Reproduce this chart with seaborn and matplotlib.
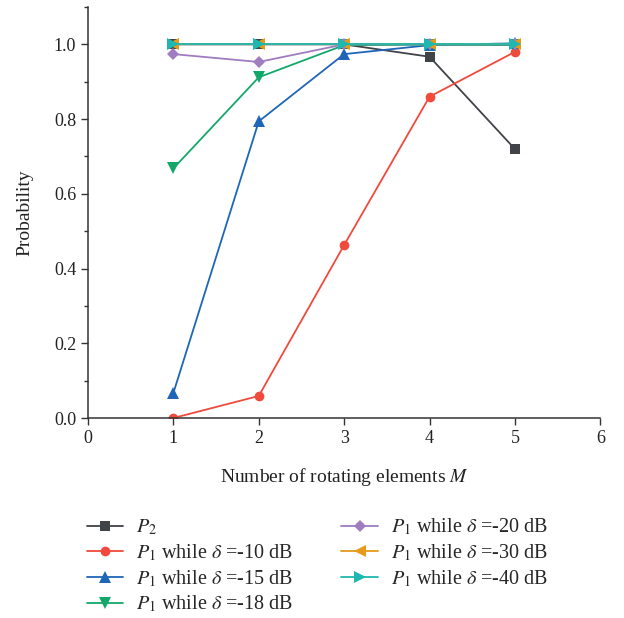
import matplotlib
matplotlib.use('Agg')
import matplotlib.pyplot as plt
import seaborn as sns
from matplotlib.ticker import MultipleLocator

# Data
M = [1, 2, 3, 4, 5]
p2 = [1.0, 1.0, 1.0, 0.967, 0.72]
p1_10 = [0.0, 0.059, 0.463, 0.86, 0.98]
p1_15 = [0.067, 0.794, 0.974, 0.998, 1.003]
p1_18 = [0.668, 0.912, 0.998, 0.999, 0.998]
p1_20 = [0.974, 0.953, 1.0, 1.0, 1.0]
p1_30 = [1.0, 1.0, 1.0, 1.0, 1.0]
p1_40 = [1.0, 1.0, 1.0, 1.0, 1.0]

labels = [r'$P_2$',
          r'$P_1$ while $\delta$ =-10 dB',
          r'$P_1$ while $\delta$ =-15 dB',
          r'$P_1$ while $\delta$ =-18 dB',
          r'$P_1$ while $\delta$ =-20 dB',
          r'$P_1$ while $\delta$ =-30 dB',
          r'$P_1$ while $\delta$ =-40 dB']
series = [p2, p1_10, p1_15, p1_18, p1_20, p1_30, p1_40]
colors = ['#404347', '#f04a3c', '#1f66b8', '#13a86a', '#a07cc0', '#e59a1a', '#1fb8b0']
markers = ['s', 'o', '^', 'v', 'D', '<', '>']
msizes = [7, 7, 8, 8, 6.5, 8, 8]

sns.set_style('ticks')
plt.rcParams['font.family'] = ['Liberation Serif', 'DejaVu Serif']
plt.rcParams['mathtext.fontset'] = 'stix'

fig = plt.figure(figsize=(6.24, 6.18), dpi=100)
ax = fig.add_axes([0.141, 0.3236, 0.821, 0.665])

for vals, lab, c, m, ms in zip(series, labels, colors, markers, msizes):
    sns.lineplot(x=M, y=vals, ax=ax, color=c, marker=m, markersize=ms,
                 markeredgewidth=0, linewidth=1.3, label=lab)

ax.set_xlim(0, 6)
ax.set_ylim(0, 1.1)
ax.set_xticks(range(0, 7))
ax.set_yticks([0.0, 0.2, 0.4, 0.6, 0.8, 1.0])
ax.yaxis.set_minor_locator(MultipleLocator(0.1))
ax.tick_params(axis='both', which='major', direction='out', length=5, width=1,
               labelsize=13, colors='#333333', labelcolor='#222222')
ax.tick_params(axis='y', which='minor', direction='out', length=3, width=1, colors='#333333')
for s in ['top', 'right']:
    ax.spines[s].set_visible(False)
for s in ['left', 'bottom']:
    ax.spines[s].set_color('#333333')
    ax.spines[s].set_linewidth(1.1)

ax.set_xlabel('Number of rotating elements $M$', fontsize=14, color='#222222', labelpad=14)
ax.set_ylabel('Probability', fontsize=14, color='#222222', labelpad=15)

ax.legend(loc='upper left', bbox_to_anchor=(0.110, 0.193), bbox_transform=fig.transFigure,
          ncol=2, frameon=False, fontsize=14.5, handlelength=1.8, handletextpad=0.65,
          columnspacing=2.4, labelspacing=0.25, borderpad=0.4)

fig.savefig('out.png', dpi=100)
